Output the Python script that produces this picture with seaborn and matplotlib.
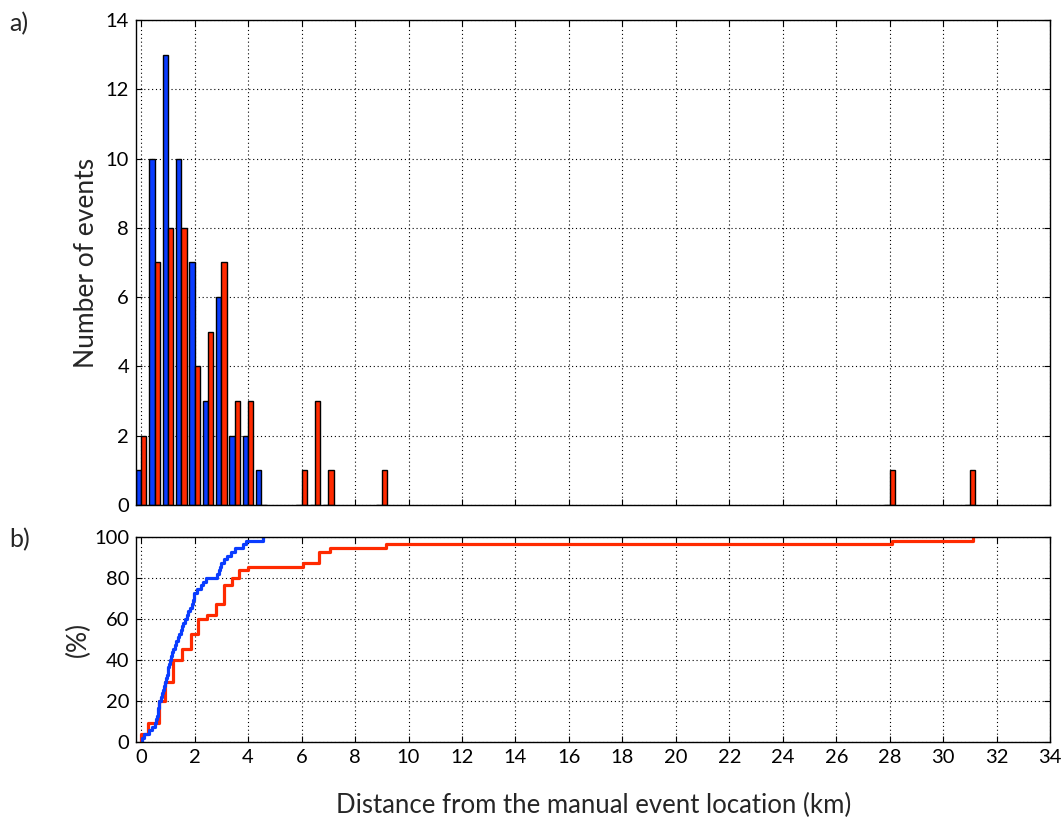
import numpy as np
import pandas as pd
import matplotlib
matplotlib.use("Agg")
import matplotlib.pyplot as plt
import seaborn as sns

# Histogram: bin centres (km) and event counts for the two location methods
bin_centers_km = [0.0, 0.5, 1.0, 1.5, 2.0, 2.5, 3.0, 3.5, 4.0, 4.5,
                  6.0, 6.5, 7.0, 9.0, 28.0, 31.0]
blue_counts = [1, 10, 13, 10, 7, 3, 6, 2, 2, 1, 0, 0, 0, 0, 0, 0]
red_counts = [2, 7, 8, 8, 4, 5, 7, 3, 3, 0, 1, 3, 1, 1, 1, 1]

# Individual distances (km) used for the cumulative curves
blue_dist_km = [0.03, 0.12, 0.30, 0.42, 0.50, 0.56, 0.60, 0.62, 0.64, 0.66,
                0.68, 0.73, 0.77, 0.82, 0.86, 0.90, 0.93, 0.96, 0.99, 1.02,
                1.05, 1.08, 1.12, 1.16, 1.20, 1.26, 1.32, 1.38, 1.43, 1.48,
                1.52, 1.58, 1.64, 1.71, 1.74, 1.83, 1.89, 1.93, 1.96, 1.99,
                2.10, 2.22, 2.30, 2.43, 2.85, 2.92, 2.95, 3.00, 3.10, 3.20,
                3.35, 3.51, 3.82, 3.94, 4.56]
red_dist_km = [0.0, 0.0, 0.27, 0.27, 0.27,
               0.65, 0.65, 0.65, 0.65, 0.65, 0.65,
               0.90, 0.90, 0.90, 0.90, 0.90,
               1.20, 1.20, 1.20, 1.20, 1.20, 1.20,
               1.52, 1.52, 1.52,
               1.85, 1.85, 1.85, 1.85,
               2.14, 2.14, 2.14, 2.14,
               2.45,
               2.79, 2.79, 2.79,
               3.10, 3.10, 3.10, 3.10, 3.10,
               3.38, 3.38,
               3.67, 3.67,
               4.00, 6.05, 6.65, 6.65, 6.65, 7.08, 9.14, 28.1, 31.1]

x_ticks = list(range(0, 35, 2))

BLUE = "#0a3cff"
RED = "#ff2a00"
palette = {"blue": BLUE, "red": RED}

sns.set_style("ticks")
plt.rcParams["font.family"] = ["Lato", "DejaVu Sans"]

hist = pd.DataFrame({
    "km": bin_centers_km * 2,
    "count": blue_counts + red_counts,
    "series": ["blue"] * len(bin_centers_km) + ["red"] * len(bin_centers_km),
})

fig = plt.figure(figsize=(10.63, 8.27), dpi=100)
ax1 = fig.add_axes([0.128, 0.3894, 0.860, 0.5864])
ax2 = fig.add_axes([0.128, 0.1032, 0.860, 0.2475])

sns.barplot(data=hist, x="km", y="count", hue="series", hue_order=["blue", "red"],
            palette=palette, native_scale=True, width=0.8, saturation=1,
            edgecolor="black", linewidth=1.0, errorbar=None, legend=False, ax=ax1)

sns.ecdfplot(x=red_dist_km, stat="percent", color=RED, lw=2.3, ax=ax2)
sns.ecdfplot(x=blue_dist_km, stat="percent", color=BLUE, lw=2.3, ax=ax2)

for ax in (ax1, ax2):
    ax.set_xlim(-0.19, 34)
    ax.set_xticks(x_ticks)
    ax.set_axisbelow(True)
    ax.grid(True, linestyle=(0, (1, 2.5)), color="black", linewidth=0.8)
    ax.tick_params(direction="in", top=True, right=True, length=4,
                   width=0.8, labelsize=14.5, colors="black", pad=5)
    for s in ax.spines.values():
        s.set_visible(True)
        s.set_color("black")
        s.set_linewidth(1.0)

ax1.set_ylim(0, 14)
ax1.set_yticks(range(0, 15, 2))
ax1.set_xticklabels([])
ax1.set_xlabel("")
ax1.set_ylabel("Number of events", fontsize=19, labelpad=5)

ax2.set_ylim(0, 100)
ax2.set_yticks(range(0, 101, 20))
ax2.set_xticklabels([str(t) for t in x_ticks])
ax2.set_ylabel("(%)", fontsize=19, labelpad=2)
ax2.set_xlabel("Distance from the manual event location (km)", fontsize=18.5, labelpad=20)

fig.text(0.009, 0.972, "a)", fontsize=18, va="center", ha="left")
fig.text(0.009, 0.347, "b)", fontsize=18, va="center", ha="left")

fig.savefig("out.png", dpi=100)
